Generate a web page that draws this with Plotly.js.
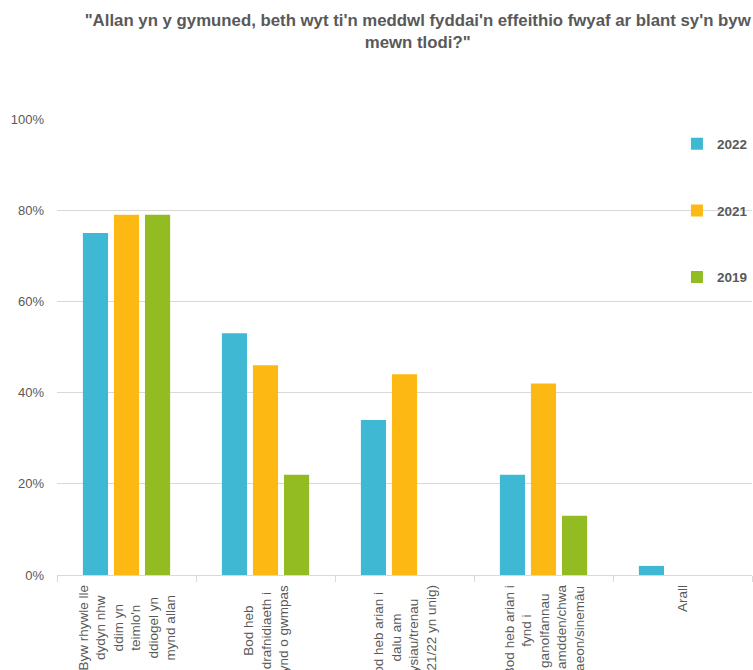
<!DOCTYPE html>
<html>
<head>
<meta charset="utf-8">
<script src="https://cdn.plot.ly/plotly-3.0.1.min.js"></script>
<style>
html,body{margin:0;padding:0;background:#fff;}
#chart{width:753px;height:670px;}
</style>
</head>
<body>
<div id="chart"></div>
<script>
const categories = [
  "Byw rhywle lle<br>dydyn nhw<br>ddim yn<br>teimlo'n<br>ddiogel yn<br>mynd allan",
  "Bod heb<br>drafnidiaeth i<br>fynd o gwmpas",
  "Bod heb arian i<br>dalu am<br>fysiau/trenau<br>(2021/22 yn unig)",
  "Bod heb arian i<br>fynd i<br>ganolfannau<br>hamdden/chwa<br>raeon/sinemâu",
  "Arall"
];
const seriesNames = ["2022", "2021", "2019"];
const values2022 = [75, 53, 34, 22, 2];
const values2021 = [79, 46, 44, 42, 0];
const values2019 = [79, 22, 0, 13, 0];
const yTicks = [0, 20, 40, 60, 80, 100];
const titleText = "\"Allan yn y gymuned, beth wyt ti'n meddwl fyddai'n effeithio fwyaf ar blant sy'n byw<br>mewn tlodi?\"";

const colors = ["#3FB8D3", "#FDB813", "#92BC21"];
const allValues = [values2022, values2021, values2019];
const xIdx = categories.map((c, i) => i);

const traces = seriesNames.map((name, k) => ({
  type: 'bar',
  name: name,
  x: xIdx,
  y: allValues[k],
  marker: {color: colors[k]},
  legendgroup: 'g' + k,
  hoverinfo: 'none'
}));

const annotations = categories.map((c, i) => ({
  xref: 'x', yref: 'y',
  x: i, y: 0,
  text: c,
  textangle: -90,
  showarrow: false,
  xanchor: 'center',
  yanchor: 'top',
  yshift: -8,
  align: 'center',
  font: {family: 'Liberation Sans, Arial, sans-serif', size: 13.5, color: '#595959'}
}));

const layout = {
  width: 753, height: 670,
  paper_bgcolor: '#ffffff', plot_bgcolor: '#ffffff',
  margin: {l: 57, r: 1, t: 119, b: 95, autoexpand: false},
  barmode: 'group',
  bargap: 0.33,
  bargroupgap: 0.19,
  font: {family: 'Liberation Sans, Arial, sans-serif', color: '#595959'},
  title: {
    text: '<b>' + titleText + '</b>',
    font: {family: 'Liberation Sans, Arial, sans-serif', size: 16.8, color: '#595959'},
    x: 0.519, xref: 'paper', xanchor: 'center',
    y: 0.961, yref: 'container', yanchor: 'middle'
  },
  xaxis: {
    type: 'linear',
    range: [-0.5, categories.length - 0.5],
    tickvals: xIdx.concat([xIdx.length]).map(v => v - 0.5),
    showticklabels: false,
    ticks: 'outside', ticklen: 6, tickcolor: '#D9D9D9',
    showgrid: false, zeroline: false,
    showline: true, linecolor: '#D9D9D9', linewidth: 1,
    fixedrange: true
  },
  yaxis: {
    range: [0, 100],
    tickvals: yTicks,
    ticktext: yTicks.map(v => v + '%'),
    ticks: '',
    ticklabelstandoff: 12,
    tickfont: {size: 13, color: '#595959'},
    showgrid: true, gridcolor: '#D9D9D9', gridwidth: 1,
    zeroline: false, showline: false,
    fixedrange: true
  },
  legend: {
    x: 0.892, xanchor: 'left',
    y: 0.979, yanchor: 'top',
    traceorder: 'grouped',
    tracegroupgap: 46,
    font: {size: 13.5, color: '#595959', family: 'Liberation Sans, Arial, sans-serif', weight: 'bold'},
    bgcolor: 'rgba(0,0,0,0)',
    itemwidth: 30
  },
  annotations: annotations,
  showlegend: true
};

Plotly.newPlot('chart', traces, layout, {displayModeBar: false, staticPlot: true});
</script>
</body>
</html>
